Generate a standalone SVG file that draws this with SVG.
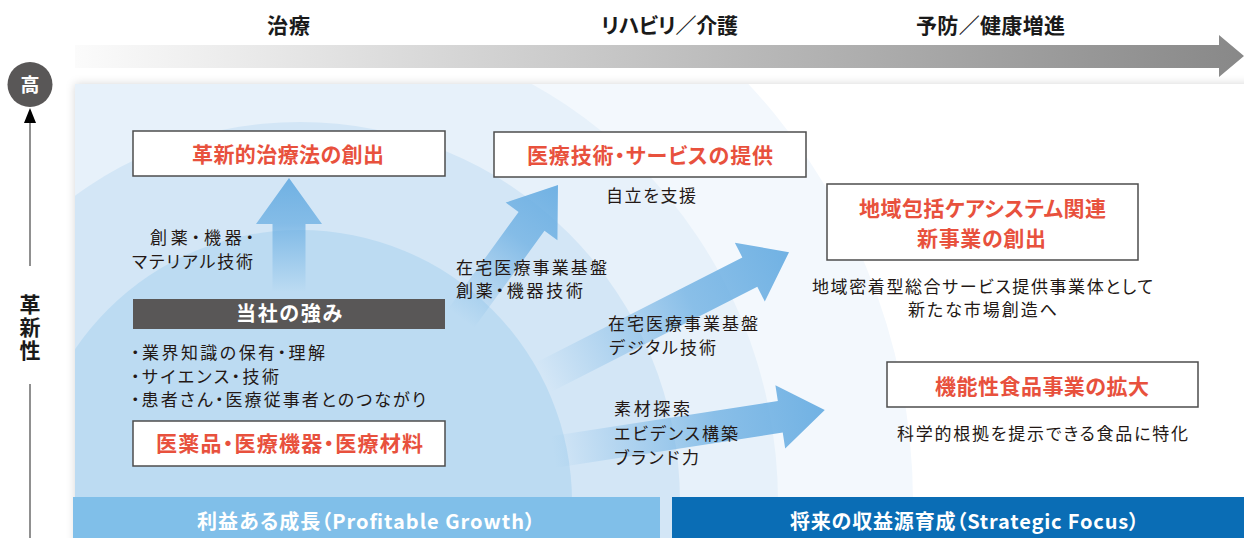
<svg xmlns="http://www.w3.org/2000/svg" width="1244" height="538" viewBox="0 0 1244 538">
<style>
text{font-family:"Noto Sans CJK JP","Noto Sans",sans-serif;font-feature-settings:"palt" 1;}
.hd{font-size:21px;font-weight:700;fill:#1a1a1a;}
.red{font-size:21px;font-weight:700;fill:#e8513d;}
.txt{font-size:17px;fill:#231815;}
.wh{font-weight:700;fill:#ffffff;}
.box{fill:#ffffff;stroke:#4d4d4d;stroke-width:1.5;}
.arr{fill:url(#arrGrad);}
</style>
<defs>
<linearGradient id="barGrad" x1="75" y1="0" x2="1244" y2="0" gradientUnits="userSpaceOnUse">
<stop offset="0" stop-color="#fbfbfb"/>
<stop offset="1" stop-color="#888888"/>
</linearGradient>
<linearGradient id="arrGrad" x1="0" y1="0" x2="1" y2="0">
<stop offset="0" stop-color="#6aaee2" stop-opacity="0"/>
<stop offset="0.6" stop-color="#6aaee2" stop-opacity="0.75"/>
<stop offset="1" stop-color="#6aaee2" stop-opacity="0.95"/>
</linearGradient>
<filter id="shadow" x="-5%" y="-10%" width="110%" height="120%">
<feDropShadow dx="0" dy="0" stdDeviation="5" flood-color="#000" flood-opacity="0.16"/>
</filter>
<clipPath id="boxClip"><rect x="75" y="84" width="1169" height="454"/></clipPath>
</defs>

<!-- top process arrow -->
<g id="process-arrow">
<polygon points="75,45 1219,45 1219,35 1244,56 1219,77 1219,68 75,68" fill="url(#barGrad)"/>
<text class="hd" x="267" y="32.5" textLength="43" lengthAdjust="spacing">治療</text>
<text class="hd" x="601" y="32.5" textLength="137" lengthAdjust="spacing">リハビリ／介護</text>
<text class="hd" x="916" y="32.5" textLength="149" lengthAdjust="spacing">予防／健康増進</text>
</g>

<!-- background panel with rings -->
<g id="panel">
<rect x="75" y="84" width="1180" height="470" fill="#ffffff" filter="url(#shadow)"/>
<g clip-path="url(#boxClip)">
<circle cx="300" cy="502" r="613" fill="#f3f8fd"/>
<circle cx="300" cy="502" r="478" fill="#e7f1fa"/>
<circle cx="300" cy="502" r="380" fill="#d3e6f6"/>
<circle cx="300" cy="502" r="272" fill="#bcdbf2"/>
</g>
</g>

<!-- vertical axis -->
<g id="axis">
<line x1="30" y1="122" x2="30" y2="266" stroke="#6b6b6b" stroke-width="1.5"/>
<line x1="30" y1="384" x2="30" y2="538" stroke="#6b6b6b" stroke-width="1.5"/>
<polygon points="24,123 36,123 30,108" fill="#000"/>
<circle cx="30" cy="84.5" r="22.5" fill="#595757"/>
<text class="wh" x="30" y="92" font-size="19" text-anchor="middle">高</text>
<text class="hd" x="30" y="294" font-size="20" writing-mode="vertical-rl" letter-spacing="2">革新性</text>
</g>

<!-- bottom bars -->
<g id="bar-profitable">
<rect x="73" y="497" width="587" height="41" fill="#80bfe9"/>
<text class="wh" x="197" y="528.5" font-size="20" textLength="338" lengthAdjust="spacing">利益ある成長（Profitable Growth）</text>
</g>
<g id="bar-strategic">
<rect x="672" y="497" width="572" height="41" fill="#0a6db5"/>
<text class="wh" x="790" y="528.5" font-size="20" textLength="349" lengthAdjust="spacing">将来の収益源育成（Strategic Focus）</text>
</g>

<!-- connectors -->
<g id="connectors">
<polygon class="arr" points="0,-16.5 68,-16.5 68,-33 114,0 68,33 68,16.5 0,16.5" transform="translate(289,292) rotate(-90)"/>
<polygon class="arr" points="0,-16 120,-16 120,-32 165,0 120,32 120,16 0,16" transform="translate(461,318.5) rotate(-54)"/>
<polygon class="arr" points="0,-16.5 231,-16.5 231,-33 275,0 231,33 231,16.5 0,16.5" transform="translate(544,377) rotate(-27)"/>
<polygon class="arr" points="0,-16 230,-16 230,-32 275,0 230,32 230,16 0,16" transform="translate(553,452) rotate(-8.8)"/>
<text class="txt" x="150" y="243.5" textLength="104" lengthAdjust="spacing">創薬・機器・</text>
<text class="txt" x="132" y="267.5" textLength="121" lengthAdjust="spacing">マテリアル技術</text>
<text class="txt" x="456" y="273.5" textLength="151" lengthAdjust="spacing">在宅医療事業基盤</text>
<text class="txt" x="456" y="296.5" textLength="127" lengthAdjust="spacing">創薬・機器技術</text>
<text class="txt" x="608" y="329.5" textLength="150" lengthAdjust="spacing">在宅医療事業基盤</text>
<text class="txt" x="609" y="353.5" textLength="107" lengthAdjust="spacing">デジタル技術</text>
<text class="txt" x="614" y="414.5" textLength="76" lengthAdjust="spacing">素材探索</text>
<text class="txt" x="614" y="439.5" textLength="124" lengthAdjust="spacing">エビデンス構築</text>
<text class="txt" x="614" y="463.5" textLength="85" lengthAdjust="spacing">ブランド力</text>
</g>

<!-- nodes -->
<g id="node-innovative">
<rect class="box" x="133" y="131" width="312" height="45"/>
<text class="red" x="192" y="161.5" textLength="192" lengthAdjust="spacing">革新的治療法の創出</text>
</g>
<g id="node-service">
<rect class="box" x="494" y="132" width="312" height="45"/>
<text class="red" x="527" y="162.5" textLength="246" lengthAdjust="spacing">医療技術・サービスの提供</text>
<text class="txt" x="606" y="201.5" textLength="90" lengthAdjust="spacing">自立を支援</text>
</g>
<g id="node-community">
<rect class="box" x="827" y="184" width="311" height="76"/>
<text class="red" x="859" y="215.5" textLength="247" lengthAdjust="spacing">地域包括ケアシステム関連</text>
<text class="red" x="917" y="245.5" textLength="129" lengthAdjust="spacing">新事業の創出</text>
<text class="txt" x="812" y="292.5" textLength="341" lengthAdjust="spacing">地域密着型総合サービス提供事業体として</text>
<text class="txt" x="908" y="315.5" textLength="149" lengthAdjust="spacing">新たな市場創造へ</text>
</g>
<g id="node-food">
<rect class="box" x="887" y="362" width="311" height="45"/>
<text class="red" x="935" y="394" textLength="214" lengthAdjust="spacing">機能性食品事業の拡大</text>
<text class="txt" x="897" y="439.5" textLength="291" lengthAdjust="spacing">科学的根拠を提示できる食品に特化</text>
</g>
<g id="node-strength">
<rect x="133" y="299" width="312" height="30" fill="#595757"/>
<text class="wh" x="236" y="321" font-size="20" textLength="106" lengthAdjust="spacing">当社の強み</text>
<text class="txt" x="131" y="358.5" textLength="194" lengthAdjust="spacing">・業界知識の保有・理解</text>
<text class="txt" x="131" y="382.5" textLength="148" lengthAdjust="spacing">・サイエンス・技術</text>
<text class="txt" x="131" y="405.5" textLength="295" lengthAdjust="spacing">・患者さん・医療従事者とのつながり</text>
</g>
<g id="node-products">
<rect class="box" x="133" y="421" width="312" height="45"/>
<text class="red" x="156" y="450.5" textLength="267" lengthAdjust="spacing">医薬品・医療機器・医療材料</text>
</g>
</svg>
